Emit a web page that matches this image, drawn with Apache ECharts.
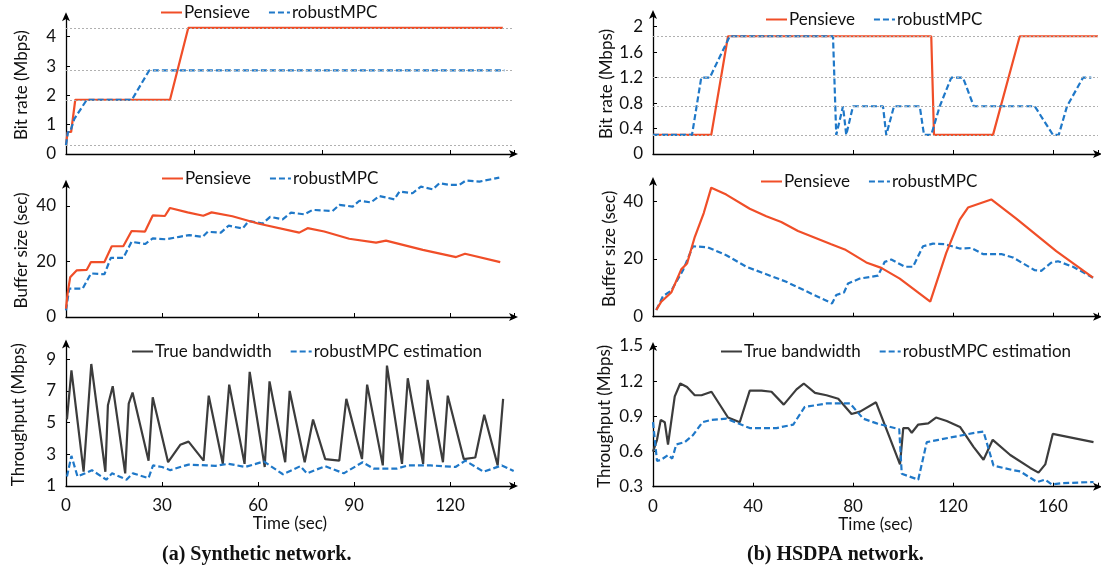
<!DOCTYPE html>
<html><head><meta charset="utf-8">
<script src="https://cdn.jsdelivr.net/npm/echarts@6/dist/echarts.min.js"></script>
<style>html,body{margin:0;padding:0;background:#fff}#c{width:1101px;height:569px}</style>
</head><body><div id="c"></div>
<script>
// ---------- (a) Synthetic network ----------
const synBitratePensieve = [[0,0.3],[0.5,0.75],[1.6,0.75],[2.9,1.85],[32.5,1.85],[38.2,4.3],[136.5,4.3]];
const synBitrateMPC = [[0,0.3],[0.6,0.75],[1.3,0.75],[2.6,1.2],[6.5,1.85],[20.6,1.85],[26,2.85],[137,2.85]];
const synBitrateLevels = [0.3,1.85,2.85,4.3];
const synBufferPensieve = [[0,3],[0.5,8.5],[1.3,14.3],[3.3,16.8],[6.5,17],[7.8,19.8],[12,19.8],[14.3,25.5],[17.9,25.5],[20.5,31],[24.7,30.8],[27.1,36.6],[30.9,36.4],[32.5,39.3],[38,37.7],[42.9,36.5],[45.5,37.7],[52,36.3],[60,33.7],[72.9,30.4],[75.5,32],[80.7,30.8],[88.5,28.2],[96.9,26.8],[100,27.5],[111.5,24.2],[121.9,21.6],[124.7,22.8],[135.7,19.8]];
const synBufferMPC = [[0,2.4],[1,10.2],[5.2,10.2],[7.8,15.7],[12,15.4],[14,21.3],[17.9,21.3],[20.5,27.1],[24.7,26.3],[27.1,28.3],[31.3,28],[35.4,28.9],[38.5,29.5],[42.7,28.9],[44.3,30.7],[48.4,30.4],[50.8,32.9],[55.2,31.9],[57.1,34.6],[61.5,33.7],[63.8,36.1],[67.7,35.2],[70.3,37.6],[74.5,37],[77.1,38.6],[83.3,38.2],[85.4,40.4],[89.6,39.8],[91.7,41.9],[95.3,41.3],[97.9,43.6],[102.6,42.4],[104.2,45.2],[108.3,44.6],[110.9,47],[114.6,46],[116.7,48.2],[119.8,47.6],[122.9,47.6],[125,49.2],[129.2,48.8],[135.4,50.2]];
const synTrueBw = [[0.3,5.2],[1.7,8.3],[5.5,1.9],[7.9,8.7],[12.3,1.9],[13.1,6.1],[14.6,7.3],[18.5,1.8],[19.6,6.2],[20.8,6.9],[25.8,2.6],[27.1,6.6],[31.9,2.5],[35.7,3.6],[38.3,3.8],[43,2.6],[44.6,6.7],[49,2.4],[51,7.4],[55.8,2.4],[57.4,8.2],[62.1,2.2],[63.6,7.6],[68.5,2.5],[69.9,7],[74.6,2.5],[77.2,5.2],[81,2.7],[85.4,2.6],[87.6,6.5],[92.5,2.7],[94.1,7.4],[99,2.3],[100.3,8.6],[105,2.4],[106.8,7.8],[111.6,2.4],[113,7.7],[117.8,2.5],[119.3,6.7],[124.3,2.7],[127.9,2.8],[130.7,5.5],[134.9,2.3],[136.6,6.5]];
const synMPCEst = [[0.3,1.6],[1.7,2.9],[3.6,1.6],[6,1.8],[8.1,2],[12.6,1.4],[14.4,1.8],[18.9,1.4],[20.9,1.8],[25.8,1.5],[27.2,2.3],[30,2.2],[32.6,2],[35.7,2.2],[38.3,2.35],[44,2.3],[46.7,2.27],[50.8,2.4],[56,2.2],[61.8,2.55],[67.8,1.74],[73.2,2.25],[75.3,1.8],[81,2.25],[86.8,1.8],[92.7,2.5],[96.1,2.1],[103.4,2.1],[107,2.3],[113.9,2.3],[121.7,2.2],[124.8,2.6],[130.5,1.9],[136.2,2.3],[139.9,1.95]];

// ---------- (b) HSDPA network ----------
const hsBitratePensieve = [[0,0.3],[23.3,0.3],[30,1.85],[111.3,1.85],[112.4,0.3],[136,0.3],[146.7,1.85],[178,1.85]];
const hsBitrateMPC = [[0,0.3],[15.6,0.3],[19.3,1.2],[22.7,1.2],[30.7,1.85],[72,1.85],[73.3,0.3],[76,0.75],[77.3,0.3],[80,0.75],[92,0.75],[93.3,0.3],[96.4,0.75],[106.7,0.75],[108.4,0.3],[111.3,0.3],[114.7,0.75],[119.3,1.2],[124,1.2],[128.3,0.75],[152.7,0.75],[160,0.3],[162.3,0.3],[165.6,0.75],[172,1.2],[175.3,1.2]];
const hsBitrateLevels = [0.3,0.75,1.2,1.85];
const hsBufferPensieve = [[1.3,2.3],[3.3,5.2],[7.3,8.4],[11.3,16.4],[13.6,18.4],[16.7,27.6],[20.3,35.9],[23.3,44.7],[29.3,42.3],[38.7,37.4],[45.3,34.8],[51.3,32.8],[58,29.7],[71.3,25.1],[76.7,23.3],[85.3,18.8],[91.3,16.9],[98.7,13.2],[110.9,5.2],[117.3,22.1],[122.7,33.6],[126,37.8],[135.3,40.6],[145.3,34],[161.3,22.7],[176,13.5]];
const hsBufferMPC = [[1.3,2.3],[4,7.1],[7.3,9],[12,16.1],[16,24.4],[22,24],[29.3,21.3],[37.3,17.3],[53.3,12.1],[71.6,4.6],[73.3,7.5],[76.4,8.4],[78,11.5],[82.7,13.2],[90,14.2],[92.7,19],[95.3,19.8],[100.7,17.3],[104,17.3],[108,24.4],[112,25.3],[116.7,25.1],[122.7,23.6],[127.3,23.8],[132,21.7],[139.3,21.7],[144,20.5],[152.7,16.1],[155.3,15.9],[159.3,18.7],[162,19.2],[168,17.3],[176,13.5]];
const hsTrueBw = [[0,0.6],[1.6,0.7],[3.1,0.87],[4.7,0.85],[6,0.66],[8.7,1.07],[10.9,1.18],[13.6,1.15],[16.7,1.08],[19.4,1.08],[23.4,1.11],[30,0.89],[34.7,0.85],[38.7,1.12],[43.4,1.12],[47.4,1.11],[52.3,1.0],[57.4,1.13],[60.3,1.18],[64.8,1.1],[69.4,1.08],[74.1,1.05],[79.4,0.92],[82.8,0.94],[89.2,1.02],[94.1,0.75],[98.8,0.49],[100.1,0.8],[102.1,0.8],[103.5,0.76],[106.1,0.83],[110.1,0.84],[113.2,0.89],[117.5,0.86],[122.8,0.81],[128.2,0.64],[132.2,0.53],[135.9,0.7],[142.9,0.57],[150.9,0.46],[154.2,0.42],[156.9,0.49],[159.9,0.75],[176.2,0.68]];
const hsMPCEst = [[0,0.85],[1.6,0.52],[3.3,0.53],[6,0.57],[7.7,0.54],[9.3,0.66],[12.7,0.68],[16,0.74],[19.8,0.85],[23.4,0.87],[29.4,0.88],[38.7,0.8],[49.4,0.8],[56.1,0.83],[60.7,0.98],[69.4,1.01],[78.8,1.01],[84.1,0.88],[89.5,0.84],[98.5,0.79],[99.5,0.41],[106.1,0.36],[109.5,0.68],[114.2,0.7],[121.5,0.73],[128.8,0.76],[132.2,0.77],[136.2,0.48],[144.2,0.44],[146.9,0.43],[153.6,0.34],[156.9,0.36],[159.5,0.32],[163.6,0.33],[176.2,0.34]];

const xTicksLeftBottom = [0,30,60,90,120];
const xTicksRightBottom = [0,40,80,120,160];

const RED = '#f04e28', BLUE = '#1f78c8', GRAY = '#3c3c3c';
const FONT = 'Lato';
const FS = 17;

const grids = [
  {left:66, top:16.2, width:448, height:137.8},
  {left:653, top:14, width:445, height:140},
  {left:66, top:183.8, width:448, height:133.2},
  {left:653, top:181, width:445, height:135.7},
  {left:66, top:343.4, width:448, height:142.6},
  {left:653, top:346, width:445, height:140.7}
].map(g => Object.assign({outerBoundsMode:'none', containLabel:false}, g));

function xAx(gi, max, interval, showLabel, ticksArr) {
  return {
    type:'value', gridIndex:gi, min:0, max:max, interval:interval,
    axisLine:{show:true, lineStyle:{color:'#000', width:1.3}, symbol:['none','arrow'], symbolSize:[6,9], symbolOffset:[0,4]},
    axisTick:{show:true, inside:true, length:4, lineStyle:{color:'#000'}},
    axisLabel:{show:showLabel, fontFamily:FONT, fontSize:FS, color:'#111', margin:11,
      formatter: v => (ticksArr && ticksArr.indexOf(v) >= 0) ? String(v) : ''},
    splitLine:{show:false},
    name: showLabel ? 'Time (sec)' : '', nameLocation:'middle', nameGap:29,
    nameTextStyle:{fontFamily:FONT, fontSize:FS, color:'#111'}
  };
}
function yAx(gi, min, max, interval, name, showMax, fmt, nameGap) {
  return {
    type:'value', gridIndex:gi, min:min, max:max, interval:interval,
    axisLine:{show:true, lineStyle:{color:'#000', width:1.3}, symbol:['none','arrow'], symbolSize:[6,9], symbolOffset:[0,4]},
    axisTick:{show:true, inside:true, length:4, lineStyle:{color:'#000'}},
    axisLabel:{fontFamily:FONT, fontSize:FS, color:'#111', margin:10, showMaxLabel:showMax,
      formatter: fmt || (v => String(+v.toFixed(2)))},
    splitLine:{show:false},
    name:name, nameLocation:'middle', nameRotate:90, nameGap:nameGap,
    nameTextStyle:{fontFamily:FONT, fontSize:FS, color:'#111'}
  };
}

const xAxes = [
  xAx(0,140,40,false), xAx(1,178,40,false),
  xAx(2,140,30,false), xAx(3,178,40,false),
  xAx(4,140,30,true,xTicksLeftBottom), xAx(5,178,40,true,xTicksRightBottom)
];
const yAxes = [
  yAx(0,0,4.7,1,'Bit rate (Mbps)',false,null,36),
  yAx(1,0,2.2,0.4,'Bit rate (Mbps)',false,null,36),
  yAx(2,0,48,20,'Buffer size (sec)',false,null,36),
  yAx(3,0,47,20,'Buffer size (sec)',false,null,35),
  yAx(4,1,10,2,'Throughput (Mbps)',false,null,39),
  yAx(5,0.3,1.5,0.3,'Throughput (Mbps)',true,v => v.toFixed(1),40)
];

function line(name, data, gi, color, dashed, extra) {
  return Object.assign({
    type:'line', name:name, data:data, xAxisIndex:gi, yAxisIndex:gi,
    symbol:'none', smooth:false, clip:false, animation:false,
    lineStyle:{color:color, width:2.2, type: dashed ? [6,3] : 'solid'},
    itemStyle:{color:color}
  }, extra || {});
}
function levelLines(levels) {
  return {
    silent:true, symbol:'none', animation:false,
    label:{show:false},
    lineStyle:{type:[2,2], color:'#b0b0b0', width:1},
    data: levels.map(v => ({yAxis:v}))
  };
}

const series = [
  line('Pensieve', synBitratePensieve, 0, RED, false, {markLine: levelLines(synBitrateLevels)}),
  line('robustMPC', synBitrateMPC, 0, BLUE, true),
  line('Pensieve', hsBitratePensieve, 1, RED, false, {markLine: levelLines(hsBitrateLevels)}),
  line('robustMPC', hsBitrateMPC, 1, BLUE, true),
  line('robustMPC', synBufferMPC, 2, BLUE, true),
  line('Pensieve', synBufferPensieve, 2, RED, false),
  line('robustMPC', hsBufferMPC, 3, BLUE, true),
  line('Pensieve', hsBufferPensieve, 3, RED, false),
  line('True bandwidth', synTrueBw, 4, GRAY, false),
  line('robustMPC estimation', synMPCEst, 4, BLUE, true),
  line('True bandwidth', hsTrueBw, 5, GRAY, false),
  line('robustMPC estimation', hsMPCEst, 5, BLUE, true)
];

function legend(left, top, names) {
  return {
    left:left, top:top, data:names, itemWidth:21, itemHeight:10, itemGap:18,
    selectedMode:false, padding:0,
    itemStyle:{opacity:0, borderWidth:0},
    textStyle:{fontFamily:FONT, fontSize:FS, color:'#111', padding:[0,0,0,-3]}
  };
}
const legends = [
  legend(160, 4, ['Pensieve','robustMPC']),
  legend(765, 11, ['Pensieve','robustMPC']),
  legend(161, 170, ['Pensieve','robustMPC']),
  legend(760, 173, ['Pensieve','robustMPC']),
  legend(131, 343, ['True bandwidth','robustMPC estimation']),
  legend(720, 343, ['True bandwidth','robustMPC estimation'])
];

const chart = echarts.init(document.getElementById('c'), null, {renderer:'canvas'});
chart.setOption({
  animation:false,
  backgroundColor:'#fff',
  grid:grids, xAxis:xAxes, yAxis:yAxes, series:series, legend:legends,
  graphic:[
    {type:'text', left:162, top:545, style:{text:'(a) Synthetic network.', font:'bold 20px "Liberation Serif"', fill:'#111'}},
    {type:'text', left:747, top:545, style:{text:'(b) HSDPA network.', font:'bold 20px "Liberation Serif"', fill:'#111'}}
  ]
});
</script></body></html>
